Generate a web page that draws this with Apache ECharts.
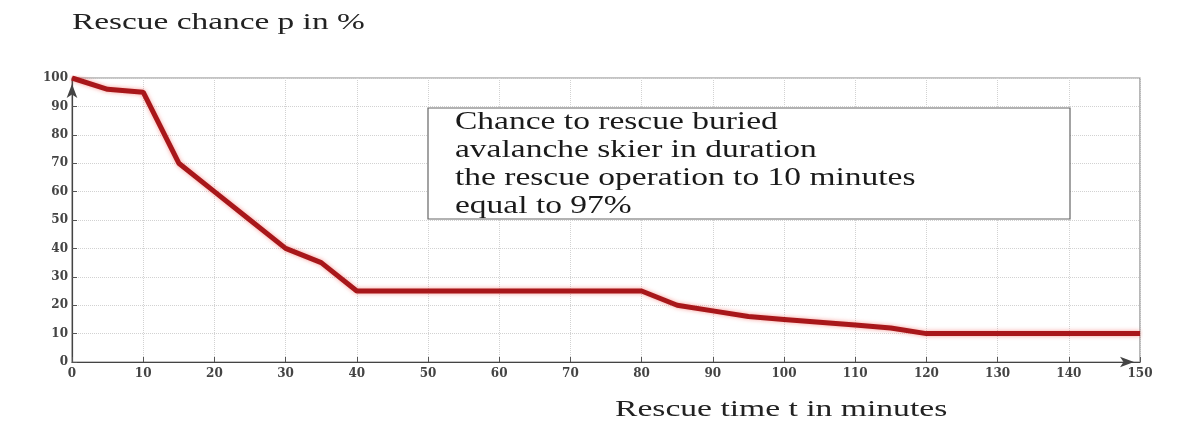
<!DOCTYPE html>
<html><head><meta charset="utf-8">
<script src="https://cdn.jsdelivr.net/npm/echarts@6/dist/echarts.min.js"></script>
<style>html,body{margin:0;padding:0;background:#fff;}#c{width:1194px;height:421px;}</style>
</head><body><div id="c"></div>
<script>
const timeMinutes = [0, 5, 10, 15, 20, 25, 30, 35, 40, 80, 85, 90, 95, 100, 110, 115, 120, 150];
const rescueChance = [100, 96, 95, 70, 60, 50, 40, 35, 25, 25, 20, 18, 16, 15, 13, 12, 10, 10];
const noteLines = ['Chance to rescue buried', 'avalanche skier in duration', 'the rescue operation to 10 minutes', 'equal to 97%'];
const yTitle = 'Rescue chance p in %';
const xTitle = 'Rescue time t in minutes';

const chart = echarts.init(document.getElementById('c'));
const serif = '"Liberation Serif","DejaVu Serif",serif';
const tickFont = {fontFamily: '"DejaVu Serif",serif', fontSize: 12, fontWeight: 'bold', color: '#444'};
chart.setOption({
  backgroundColor: '#fff',
  animation: false,
  grid: {left: 72, right: 54, top: 78, bottom: 59, show: true, borderColor: '#8a8a8a', borderWidth: 1.2},
  graphic: [{
    type: 'text', x: 72, y: 11, scaleX: 1.39, z: 100,
    style: {text: yTitle, font: '24px ' + serif, fill: '#222', textVerticalAlign: 'top'}
  }, {
    type: 'group', x: 428, y: 108, z: 100,
    children: [
      {type: 'rect', z: 100, shape: {x: 0, y: 0, width: 642, height: 111}, style: {fill: '#fff', stroke: '#666', lineWidth: 1.2}},
      {type: 'text', z: 101, x: 27, y: 0, scaleX: 1.34, style: {text: noteLines.join('\n'), font: '25px ' + serif, lineHeight: 28, fill: '#1a1a1a', textVerticalAlign: 'top'}}
    ]
  }, {
    type: 'text', x: 615, y: 398, scaleX: 1.4, z: 100,
    style: {text: xTitle, font: '24px ' + serif, fill: '#222', textVerticalAlign: 'top'}
  }],
  xAxis: {
    type: 'value', min: 0, max: 150, interval: 10,
    axisLine: {lineStyle: {color: '#444', width: 1.2}, symbol: ['none', 'arrow'], symbolSize: [8, 14], symbolOffset: [0, -6]},
    axisTick: {show: true, inside: true, length: 5, lineStyle: {color: '#555'}},
    axisLabel: Object.assign({margin: 6}, tickFont),
    splitLine: {show: true, lineStyle: {color: '#d2d2d2', type: 'dotted'}}
  },
  yAxis: {
    type: 'value', min: 0, max: 100, interval: 10,
    axisLine: {show: true, lineStyle: {color: '#444', width: 1.2}, symbol: ['none', 'arrow'], symbolSize: [8, 14], symbolOffset: [0, -6]},
    axisTick: {show: true, inside: true, length: 5, lineStyle: {color: '#555'}},
    axisLabel: Object.assign({margin: 4}, tickFont),
    splitLine: {show: true, lineStyle: {color: '#d2d2d2', type: 'dotted'}}
  },
  series: [{
    type: 'line',
    data: timeMinutes.map((t, i) => [t, rescueChance[i]]),
    showSymbol: false,
    lineStyle: {color: '#a8171a', width: 5, shadowColor: 'rgba(240,90,80,0.6)', shadowBlur: 4}
  }]
});
</script></body></html>
